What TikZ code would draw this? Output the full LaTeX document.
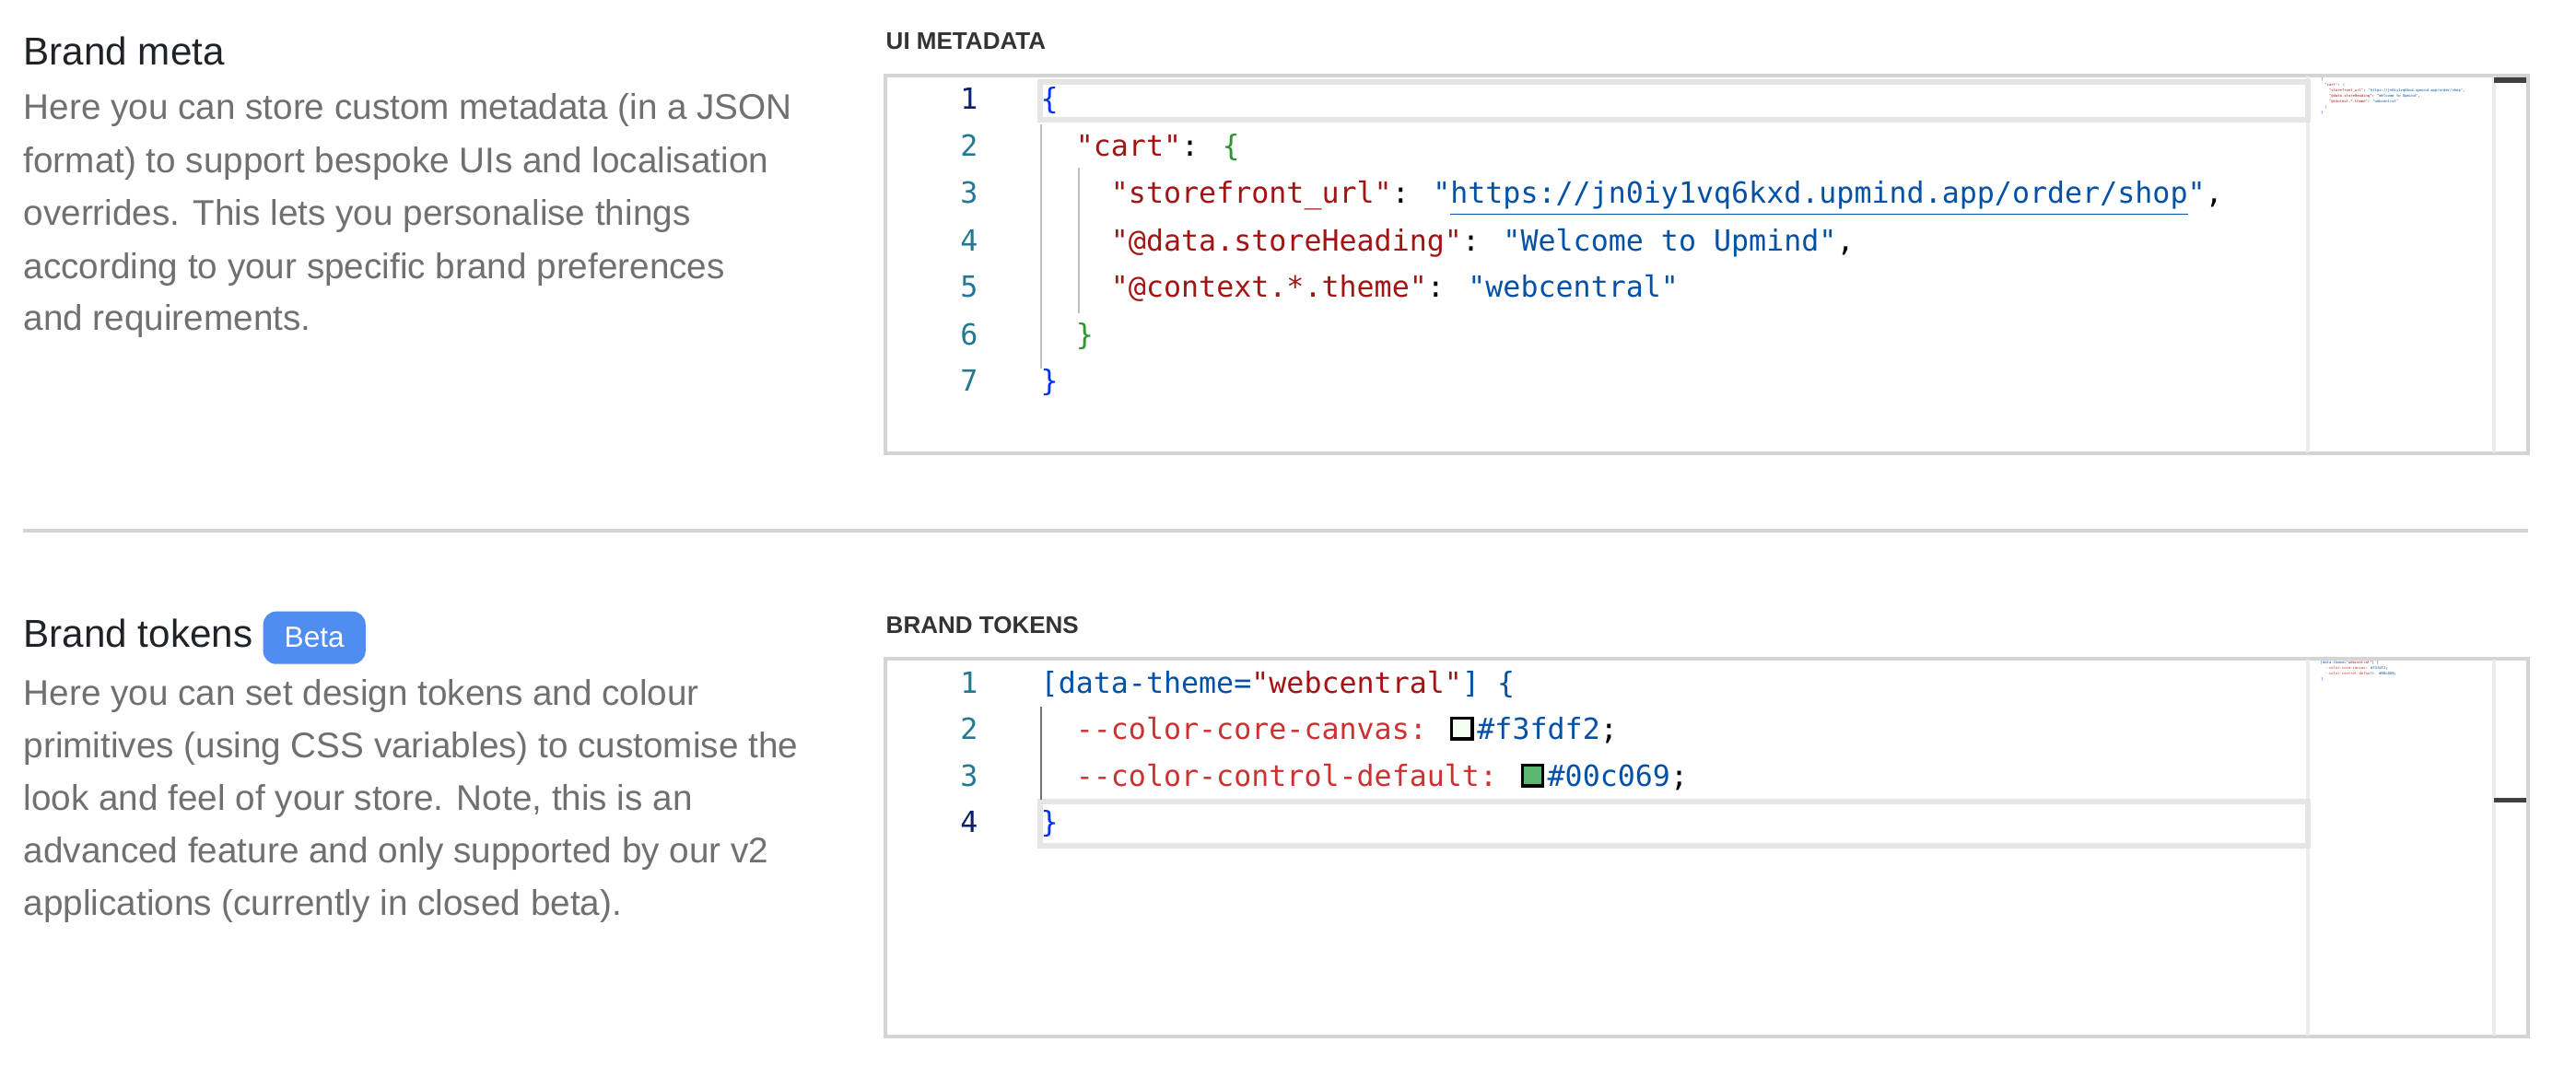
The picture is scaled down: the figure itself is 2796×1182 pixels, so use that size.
\documentclass[tikz,border=0pt]{standalone}
\usepackage{fontspec}
\setmainfont{Liberation Sans}
\newfontfamily\codefont{DejaVu Sans Mono}
\definecolor{bodyg}{HTML}{707070}
\definecolor{titlec}{HTML}{1F2328}
\definecolor{keyc}{HTML}{A31515}
\definecolor{strc}{HTML}{0451A5}
\definecolor{brc}{HTML}{0431FA}
\definecolor{brg}{HTML}{319331}
\definecolor{lnc}{HTML}{237893}
\definecolor{lncur}{HTML}{0B216F}
\definecolor{cssp}{HTML}{CD3131}
\definecolor{bord}{HTML}{D4D4D4}
\definecolor{betab}{HTML}{4F8DF0}
\definecolor{swA}{HTML}{F3FDF2}
\definecolor{swB}{HTML}{5CB870}
\newcommand{\swatch}[1]{{\setlength{\fboxsep}{0pt}\setlength{\fboxrule}{0.9pt}\raisebox{0.05em}{\fcolorbox{black}{#1}{\rule{0pt}{0.6em}\hspace{0.6em}}}}\hspace{0.12em}}
\tikzset{
 title/.style={anchor=base west,text=titlec,font=\fontsize{12}{14}\selectfont,inner sep=0},
 body/.style={anchor=base west,text=bodyg,font=\fontsize{11}{13}\selectfont,inner sep=0},
 lbl/.style={anchor=base west,text=black!80,font=\bfseries\fontsize{7.4}{9}\selectfont,inner sep=0},
 code/.style={anchor=base west,font=\codefont\fontsize{9}{11}\selectfont,inner sep=0},
 lnum/.style={anchor=base,font=\codefont\fontsize{9}{11}\selectfont,inner sep=0,text=lnc},
 mini/.style={anchor=base west,font=\codefont\fontsize{1.1}{1.3}\selectfont,inner sep=0},
}
\begin{document}
\begin{tikzpicture}[x=0.01cm,y=-0.01cm]
\useasboundingbox[fill=white] (0,0) rectangle (2796,1182);
% left texts
\node[title] (t1) at (25,71) {Brand meta};
\node[body] (b11) at (25,130) {Here you can store custom metadata (in a JSON};
\node[body] (b12) at (25,188) {format) to support bespoke UIs and localisation};
\node[body] (b13) at (25,245) {overrides. This lets you personalise things};
\node[body] (b14) at (25,302) {according to your specific brand preferences};
\node[body] (b15) at (25,359) {and requirements.};
\draw[bord,line width=1.2pt] (25,576) -- (2744,576);
\node[title] (t2) at (25,702) {Brand tokens};
\node[fill=betab,rounded corners=4pt,inner sep=0,anchor=north west,minimum width=1.11cm,minimum height=0.57cm,text=white,font=\fontsize{9}{10}\selectfont] (beta) at (285,663) {Beta};
\node[body] (b21) at (25,765) {Here you can set design tokens and colour};
\node[body] (b22) at (25,822) {primitives (using CSS variables) to customise the};
\node[body] (b23) at (25,879) {look and feel of your store. Note, this is an};
\node[body] (b24) at (25,936) {advanced feature and only supported by our v2};
\node[body] (b25) at (25,993) {applications (currently in closed beta).};
% editor 1
\node[lbl] (l1) at (961,54) {UI METADATA};
\draw[bord,line width=1.3pt] (961,82) rectangle (2744,492);
\draw[black!8,line width=1pt] (2505,83) -- (2505,491);
\draw[black!8,line width=1pt] (2707,83) -- (2707,491);
\fill[black!75] (2707,84) rectangle (2742,90);
\draw[black!10,line width=1.5pt] (1129,89) rectangle (2505,130);
\draw[black!25,line width=0.5pt] (1130,135) -- (1130,400);
\draw[black!25,line width=0.5pt] (1171,182) -- (1171,340);
\foreach \n/\y in {2/160,3/211,4/262,5/312,6/364,7/414}
  \node[lnum] (ln\n) at (1052,\y+10) {\n};
\node[lnum,text=lncur] (ln1) at (1052,119) {1};
\node[code] (c1) at (1129,119) {\textcolor{brc}{\{}};
\node[code] (c2) at (1129,170) {\phantom{xx}\textcolor{keyc}{"cart"}: \textcolor{brg}{\{}};
\node[code] (c3) at (1129,221) {\phantom{xxxx}\textcolor{keyc}{"storefront\_url"}: \textcolor{strc}{"\underline{https://jn0iy1vq6kxd.upmind.app/order/shop}"},};
\node[code] (c4) at (1129,272) {\phantom{xxxx}\textcolor{keyc}{"@data.storeHeading"}: \textcolor{strc}{"Welcome to Upmind"},};
\node[code] (c5) at (1129,322) {\phantom{xxxx}\textcolor{keyc}{"@context.*.theme"}: \textcolor{strc}{"webcentral"}};
\node[code] (c6) at (1129,374) {\phantom{xx}\textcolor{brg}{\}}};
\node[code] (c7) at (1129,424) {\textcolor{brc}{\}}};
% minimap 1
\node[mini] at (2518,88) {\textcolor{brc}{\{}};
\node[mini] at (2518,94) {\phantom{xx}\textcolor{keyc}{"cart"}: \textcolor{brg}{\{}};
\node[mini] at (2518,100) {\phantom{xxxx}\textcolor{keyc}{"storefront\_url"}: \textcolor{strc}{"https://jn0iy1vq6kxd.upmind.app/order/shop"},};
\node[mini] at (2518,106) {\phantom{xxxx}\textcolor{keyc}{"@data.storeHeading"}: \textcolor{strc}{"Welcome to Upmind"},};
\node[mini] at (2518,112) {\phantom{xxxx}\textcolor{keyc}{"@context.*.theme"}: \textcolor{strc}{"webcentral"}};
\node[mini] at (2518,118) {\phantom{xx}\textcolor{brg}{\}}};
\node[mini] at (2518,124) {\textcolor{brc}{\}}};
% editor 2
\node[lbl] (l2) at (961,687) {BRAND TOKENS};
\draw[bord,line width=1.3pt] (961,715) rectangle (2744,1125);
\draw[black!8,line width=1pt] (2505,716) -- (2505,1124);
\draw[black!8,line width=1pt] (2707,716) -- (2707,1124);
\fill[black!75] (2707,866) rectangle (2742,871);
\draw[black!10,line width=1.5pt] (1129,870) rectangle (2505,918);
\draw[black!55,line width=0.5pt] (1130,767) -- (1130,868);
\foreach \n/\y in {1/742,2/792,3/843}
  \node[lnum] (mn\n) at (1052,\y+10) {\n};
\node[lnum,text=lncur] (mn4) at (1052,903) {4};
\node[code] (d1) at (1129,752) {\textcolor{strc}{[data-theme=}\textcolor{keyc}{"webcentral"}\textcolor{strc}{] \{}};
\node[code] (d2) at (1129,802) {\phantom{xx}\textcolor{cssp}{--color-core-canvas:} \swatch{swA}\textcolor{strc}{\#f3fdf2};};
\node[code] (d3) at (1129,853) {\phantom{xx}\textcolor{cssp}{--color-control-default:} \swatch{swB}\textcolor{strc}{\#00c069};};
\node[code] (d4) at (1129,903) {\textcolor{brc}{\}}};
% minimap 2
\node[mini] at (2518,720) {\textcolor{strc}{[data-theme=}\textcolor{keyc}{"webcentral"}\textcolor{strc}{] \{}};
\node[mini] at (2518,726) {\phantom{xx}\textcolor{cssp}{--color-core-canvas:} \textcolor{strc}{\#f3fdf2};};
\node[mini] at (2518,732) {\phantom{xx}\textcolor{cssp}{--color-control-default:} \textcolor{strc}{\#00c069};};
\node[mini] at (2518,738) {\textcolor{brc}{\}}};
\end{tikzpicture}
\end{document}
